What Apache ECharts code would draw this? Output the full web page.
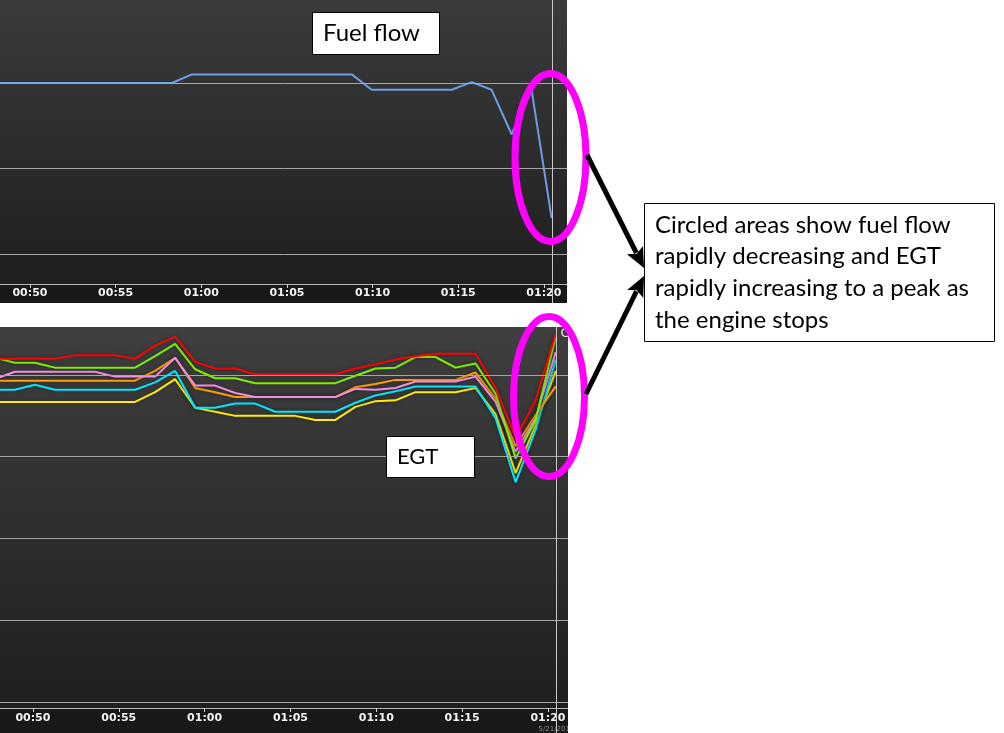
<!DOCTYPE html>
<html><head><meta charset="utf-8">
<script src="https://cdn.jsdelivr.net/npm/echarts@6/dist/echarts.min.js"></script>
<style>html,body{margin:0;padding:0;background:#fff;overflow:hidden}#c{width:1004px;height:733px}</style>
</head><body><div id="c"></div>
<script>
// ---- data ----
const sampleTimes = ['00:47:47','00:48:57','00:50:07','00:51:17','00:52:27','00:53:37','00:54:47','00:55:57','00:57:07','00:58:17','00:59:27','01:00:37','01:01:47','01:02:57','01:04:07','01:05:17','01:06:27','01:07:37','01:08:47','01:09:57','01:11:07','01:12:17','01:13:27','01:14:37','01:15:47','01:16:57','01:18:07','01:19:17','01:20:27'];
const fuelFlow = [10.0,10.0,10.0,10.0,10.0,10.0,10.0,10.0,10.0,10.0,10.5,10.5,10.5,10.5,10.5,10.5,10.5,10.5,10.5,9.6,9.6,9.6,9.6,9.6,10.05,9.6,7.0,9.6,2.1];
const egtRed    = [1420,1420,1420,1420,1424,1424,1424,1420,1436,1447,1416,1408,1408,1401,1401,1401,1401,1401,1408,1413,1419,1423,1426,1426,1426,1384,1323,1369,1450];
const egtGreen  = [1421,1415,1415,1409,1409,1409,1409,1409,1423,1438,1407,1396,1396,1390,1390,1390,1390,1390,1399,1408,1409,1422,1422,1409,1414,1377,1298,1345,1447];
const egtPink   = [1395,1404,1404,1404,1404,1404,1398,1398,1398,1421,1387,1387,1378,1373,1373,1373,1373,1373,1383,1382,1384,1392,1392,1392,1398,1367,1306,1347,1428];
const egtOrange = [1393,1393,1393,1393,1393,1393,1393,1393,1405,1421,1384,1379,1373,1373,1373,1373,1373,1373,1385,1389,1394,1394,1394,1394,1403,1371,1313,1351,1386];
const egtCyan   = [1382,1382,1388,1382,1382,1382,1382,1382,1391,1405,1360,1360,1365,1365,1355,1355,1355,1355,1366,1375,1380,1386,1386,1386,1386,1347,1269,1333,1419];
const egtYellow = [1367,1367,1367,1367,1367,1367,1367,1367,1379,1395,1360,1355,1350,1350,1350,1350,1345,1345,1361,1368,1369,1379,1379,1379,1384,1352,1280,1339,1405];
const tickLabels = ['00:50','00:55','01:00','01:05','01:10','01:15','01:20'];
const fuelGridValues = [0,5,10];
const egtGridValues = [1000,1100,1200,1300,1400];
const fuelRange = [-1.754,14.85];
const egtRange = [992.66,1458.7];
const cursorTime = '01:20:27';
const topRange = ['00:48:15','01:21:21'];
const bottomRange = ['00:48:05','01:21:10'];
const noteText = ['Circled areas show fuel flow','rapidly decreasing and EGT','rapidly increasing to a peak as','the engine stops'];

function toMin(s){const p=s.split(':').map(Number);return p[0]*60+p[1]+(p[2]||0)/60;}
function fmt(v){const h=Math.floor(v/60+1e-6),m=Math.round(v-h*60);return String(h).padStart(2,'0')+':'+String(m).padStart(2,'0');}
const tickVals = tickLabels.map(toMin);
const xs = sampleTimes.map(toMin);
const pts = arr => xs.map((x,i)=>[x,arr[i]]);

const chart = echarts.init(document.getElementById('c'), null, {renderer:'canvas'});

function xAx(idx, range, margin){
  return {type:'value', gridIndex:idx, min:toMin(range[0]), max:toMin(range[1]), position:'bottom',
    axisLine:{show:true,onZero:false,lineStyle:{color:'#b4b4b4',width:1}},
    axisTick:{show:true,customValues:tickVals,length:4,lineStyle:{color:'#d0d0d0'}},
    axisLabel:{show:true,customValues:tickVals,formatter:fmt,margin:margin,color:'#f2f2f2',fontFamily:'DejaVu Sans',fontWeight:'bold',fontSize:11},
    splitLine:{show:false}};
}
function yAx(idx, range){
  return {type:'value', gridIndex:idx, min:range[0], max:range[1],
    axisLine:{show:false}, axisTick:{show:false}, axisLabel:{show:false}, splitLine:{show:false}};
}
function gridLines(vals){
  return {silent:true,symbol:'none',label:{show:false},animation:false,
    lineStyle:{color:'#a6a6a6',width:1,type:'solid'},emphasis:{disabled:true},
    data:vals.map(v=>({yAxis:v}))};
}
function egt(name,color,arr){
  return {name:name,type:'line',xAxisIndex:1,yAxisIndex:1,data:pts(arr),showSymbol:false,symbol:'none',
    lineStyle:{color:color,width:2,shadowBlur:4,shadowColor:'rgba(0,0,0,0.35)'},z:3};
}

const panelGrad = (a,b)=>new echarts.graphic.LinearGradient(0,0,0,1,[{offset:0,color:a},{offset:1,color:b}]);

function arrow(x1,y1,x2,y2){
  const dx=x2-x1,dy=y2-y1,L=Math.hypot(dx,dy),ux=dx/L,uy=dy/L,hl=20,hw=9;
  const bx=x2-ux*hl,by=y2-uy*hl,nx=-uy,ny=ux;
  return [
    {type:'line',z:120,shape:{x1:x1,y1:y1,x2:bx+ux*3,y2:by+uy*3},style:{stroke:'#000',lineWidth:5}},
    {type:'polygon',z:121,shape:{points:[[x2,y2],[bx+nx*hw,by+ny*hw],[bx+ux*4,by+uy*4],[bx-nx*hw,by-ny*hw]]},style:{fill:'#000'}}
  ];
}
function labelBox(x,y,w,h,text,tx,ty,size){
  return [
    {type:'rect',z:110,shape:{x:x+0.5,y:y+0.5,width:w,height:h},style:{fill:'#fff',stroke:'#000',lineWidth:1}},
    {type:'text',z:111,x:tx,y:ty,style:{text:text,fill:'#000',font:size+'px Lato',verticalAlign:'middle'}}
  ];
}

const baseGraphics = [
  {type:'rect',z:-10,shape:{x:0,y:0,width:567,height:284},style:{fill:panelGrad('#3b3b3b','#1f1f1f')}},
  {type:'rect',z:-10,shape:{x:0,y:284,width:567,height:19},style:{fill:'#181818'}},
  {type:'rect',z:-10,shape:{x:0,y:327,width:568,height:381},style:{fill:panelGrad('#3f3f3f','#1f1f1f')}},
  {type:'rect',z:-10,shape:{x:0,y:708,width:568,height:25},style:{fill:'#181818'}}
];

chart.setOption({
  animation:false,
  backgroundColor:'#ffffff',
  grid:[
    {left:0,top:0,width:567,height:284,containLabel:false},
    {left:0,top:327,width:568,height:381,containLabel:false}
  ],
  xAxis:[xAx(0,topRange,4), xAx(1,bottomRange,5)],
  yAxis:[yAx(0,fuelRange), yAx(1,egtRange)],
  series:[
    {name:'Fuel flow',type:'line',xAxisIndex:0,yAxisIndex:0,data:pts(fuelFlow),showSymbol:false,symbol:'none',
      lineStyle:{color:'#6c9de8',width:2},z:3,markLine:gridLines(fuelGridValues)},
    Object.assign(egt('EGT 6','#ffee00',egtYellow),{markLine:gridLines(egtGridValues)}),
    egt('EGT 5','#00e8ff',egtCyan),
    egt('EGT 4','#ffa000',egtOrange),
    egt('EGT 3','#f08ee0',egtPink),
    egt('EGT 2','#80f000',egtGreen),
    egt('EGT 1','#ff0000',egtRed)
  ],
  graphic:baseGraphics
});

const cur = toMin(cursorTime);
const cx0 = Math.round(chart.convertToPixel({xAxisIndex:0}, cur))+0.5;
const cx1 = Math.round(chart.convertToPixel({xAxisIndex:1}, cur))+0.5;

const overlay = [
  {type:'line',z:50,shape:{x1:cx0,y1:0,x2:cx0,y2:303},style:{stroke:'#c8c8c8',lineWidth:1}},
  {type:'line',z:50,shape:{x1:cx1,y1:327,x2:cx1,y2:733},style:{stroke:'#c8c8c8',lineWidth:1}},
  {type:'text',z:47,x:cx1+4,y:327,style:{text:'C',fill:'#e8e8e8',font:'13px DejaVu Sans'}},
  {type:'text',z:47,x:cx1-18,y:726,style:{text:'5/21/2016',fill:'#8c8c8c',font:'7px DejaVu Sans'}},
  {type:'rect',z:49,shape:{x:568,y:327,width:40,height:406},style:{fill:'#fff'}},
  {type:'rect',z:49,shape:{x:567,y:0,width:40,height:303},style:{fill:'#fff'}},
  ...labelBox(312,12,127,42,'Fuel flow',323,33,24),
  ...labelBox(386,436,88,41,'EGT',397,457,22),
  {type:'ellipse',z:100,shape:{cx:550.5,cy:157.5,rx:35.5,ry:84},style:{fill:null,stroke:'#ff00ff',lineWidth:7}},
  {type:'ellipse',z:100,shape:{cx:549,cy:396.5,rx:35.5,ry:80},style:{fill:null,stroke:'#ff00ff',lineWidth:7}},
  ...arrow(587,155,644,268),
  ...arrow(586,394,644,276),
  {type:'rect',z:110,shape:{x:644.5,y:203.5,width:350,height:138},style:{fill:'#fff',stroke:'#000',lineWidth:1}},
  ...noteText.map((t,i)=>({type:'text',z:111,x:655,y:225+i*31.7,style:{text:t,fill:'#000',font:'24px Lato',verticalAlign:'middle'}}))
];
chart.setOption({graphic:baseGraphics.concat(overlay)});
</script></body></html>
